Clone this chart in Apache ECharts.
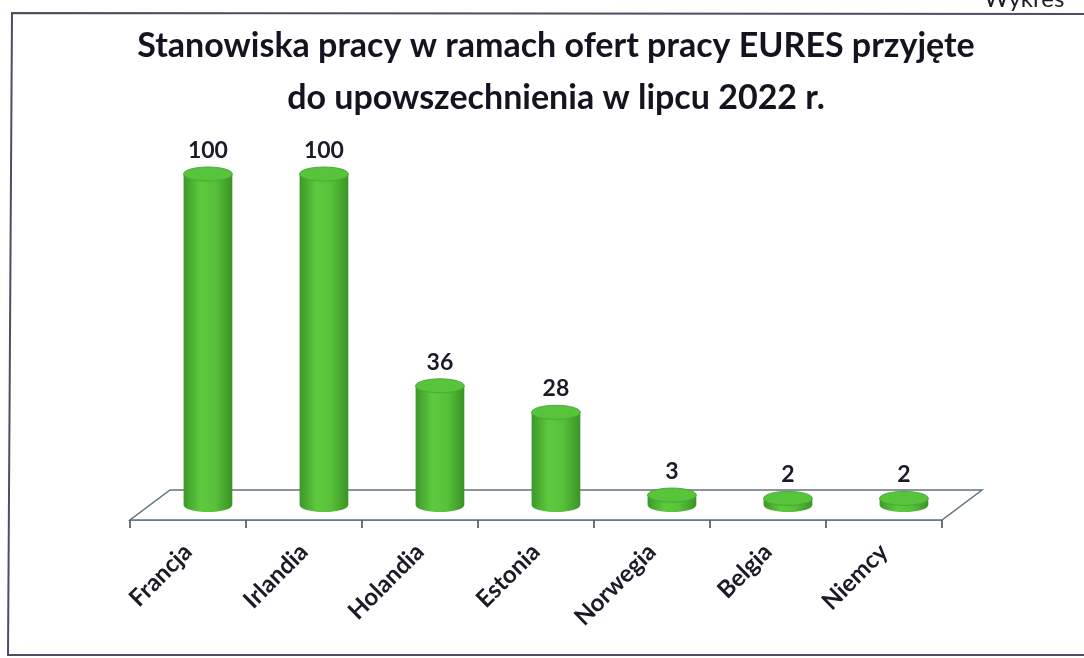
<!DOCTYPE html>
<html>
<head>
<meta charset="utf-8">
<script src="https://cdn.jsdelivr.net/npm/echarts@6/dist/echarts.min.js"></script>
<style>
html,body{margin:0;padding:0;background:#fff;}
#chart{width:1084px;height:658px;}
</style>
</head>
<body>
<div id="chart"></div>
<script>
var categories = ['Francja', 'Irlandia', 'Holandia', 'Estonia', 'Norwegia', 'Belgia', 'Niemcy'];
var values = [100, 100, 36, 28, 3, 2, 2];
var titleLines = ['Stanowiska pracy w ramach ofert pracy EURES przyjęte', 'do upowszechnienia w lipcu 2022 r.'];
var cornerText = 'Wykres';

var FONT = 'Lato, "Open Sans", "Noto Sans", sans-serif';

var chart = echarts.init(document.getElementById('chart'), null, {renderer: 'canvas'});

function renderFloor(params, api) {
  var cs = params.coordSys;
  var x0 = cs.x, x1 = cs.x + cs.width, y = cs.y + cs.height;
  var bw = api.size([1, 0])[0];
  var dx = bw * 0.345, dy = -30;
  return {
    type: 'polygon',
    silent: true,
    shape: {points: [[x0, y], [x1, y], [x1 + dx, y + dy], [x0 + dx, y + dy]]},
    style: {fill: '#ffffff', stroke: '#5f7380', lineWidth: 1.5}
  };
}

function renderCyl(params, api) {
  var i = api.value(0), v = api.value(1);
  var base = api.coord([i, 0]);
  var top = api.coord([i, v]);
  var bw = api.size([1, 0])[0];
  var rx = bw * 0.21, ry = 7;
  var dx = bw * 0.172, dy = -15;
  var cx = base[0] + dx, by = base[1] + dy, ty = top[1] + dy;
  var body = 'M' + (cx - rx) + ' ' + ty +
    ' L' + (cx - rx) + ' ' + by +
    ' A' + rx + ' ' + ry + ' 0 0 0 ' + (cx + rx) + ' ' + by +
    ' L' + (cx + rx) + ' ' + ty + ' Z';
  var cap = 'M' + (cx - rx) + ' ' + ty +
    ' A' + rx + ' ' + ry + ' 0 1 0 ' + (cx + rx) + ' ' + ty +
    ' A' + rx + ' ' + ry + ' 0 1 0 ' + (cx - rx) + ' ' + ty + ' Z';
  return {
    type: 'group',
    children: [
      {
        type: 'path',
        shape: {pathData: body},
        style: {
          fill: new echarts.graphic.LinearGradient(0, 0, 1, 0, [
            {offset: 0, color: '#3c9828'},
            {offset: 0.35, color: '#5ec93f'},
            {offset: 0.65, color: '#57c039'},
            {offset: 1, color: '#3a9326'}
          ])
        }
      },
      {
        type: 'path',
        shape: {pathData: cap},
        style: {fill: '#58c43b', stroke: '#4aaa33', lineWidth: 1}
      },
      {
        type: 'text',
        style: {
          text: String(v),
          x: cx,
          y: ty - ry - 5,
          align: 'center',
          verticalAlign: 'bottom',
          fill: '#1b1b28',
          font: 'bold 23px ' + FONT
        }
      }
    ]
  };
}

var option = {
  backgroundColor: '#ffffff',
  animation: false,
  title: {
    text: titleLines.join('\n'),
    left: 556,
    top: 20,
    textAlign: 'center',
    padding: 0,
    textStyle: {
      fontFamily: FONT,
      fontSize: 34,
      fontWeight: 'bold',
      lineHeight: 52,
      color: '#141420'
    }
  },
  graphic: [
    {
      type: 'polyline',
      silent: true,
      shape: {points: [[1090, 14], [12, 13], [8, 655], [1090, 655]]},
      style: {stroke: '#4a4f63', lineWidth: 2, fill: null}
    },
    {
      type: 'text',
      silent: true,
      style: {
        text: cornerText,
        x: 984,
        y: 11,
        verticalAlign: 'bottom',
        font: '24px ' + FONT,
        fill: '#1b1b28'
      }
    }
  ],
  grid: {left: 130, right: 142, top: 189, bottom: 138, containLabel: false},
  xAxis: {
    type: 'category',
    data: categories,
    boundaryGap: true,
    axisLine: {show: true, lineStyle: {color: '#5f7380', width: 1.5}},
    axisTick: {show: true, length: 8, interval: 0, lineStyle: {color: '#3e4652', width: 1.5}},
    axisLabel: {
      interval: 0,
      rotate: 45,
      margin: 28,
      fontFamily: FONT,
      fontSize: 24,
      fontWeight: 'bold',
      color: '#1b1b28'
    },
    splitLine: {show: false}
  },
  yAxis: {
    type: 'value',
    min: 0,
    max: 100,
    show: false
  },
  series: [
    {
      type: 'custom',
      renderItem: renderFloor,
      data: [[0, 0]],
      silent: true,
      z: 1
    },
    {
      type: 'custom',
      renderItem: renderCyl,
      data: categories.map(function (c, i) { return [i, values[i]]; }),
      z: 2
    }
  ]
};
chart.setOption(option);
</script>
</body>
</html>
